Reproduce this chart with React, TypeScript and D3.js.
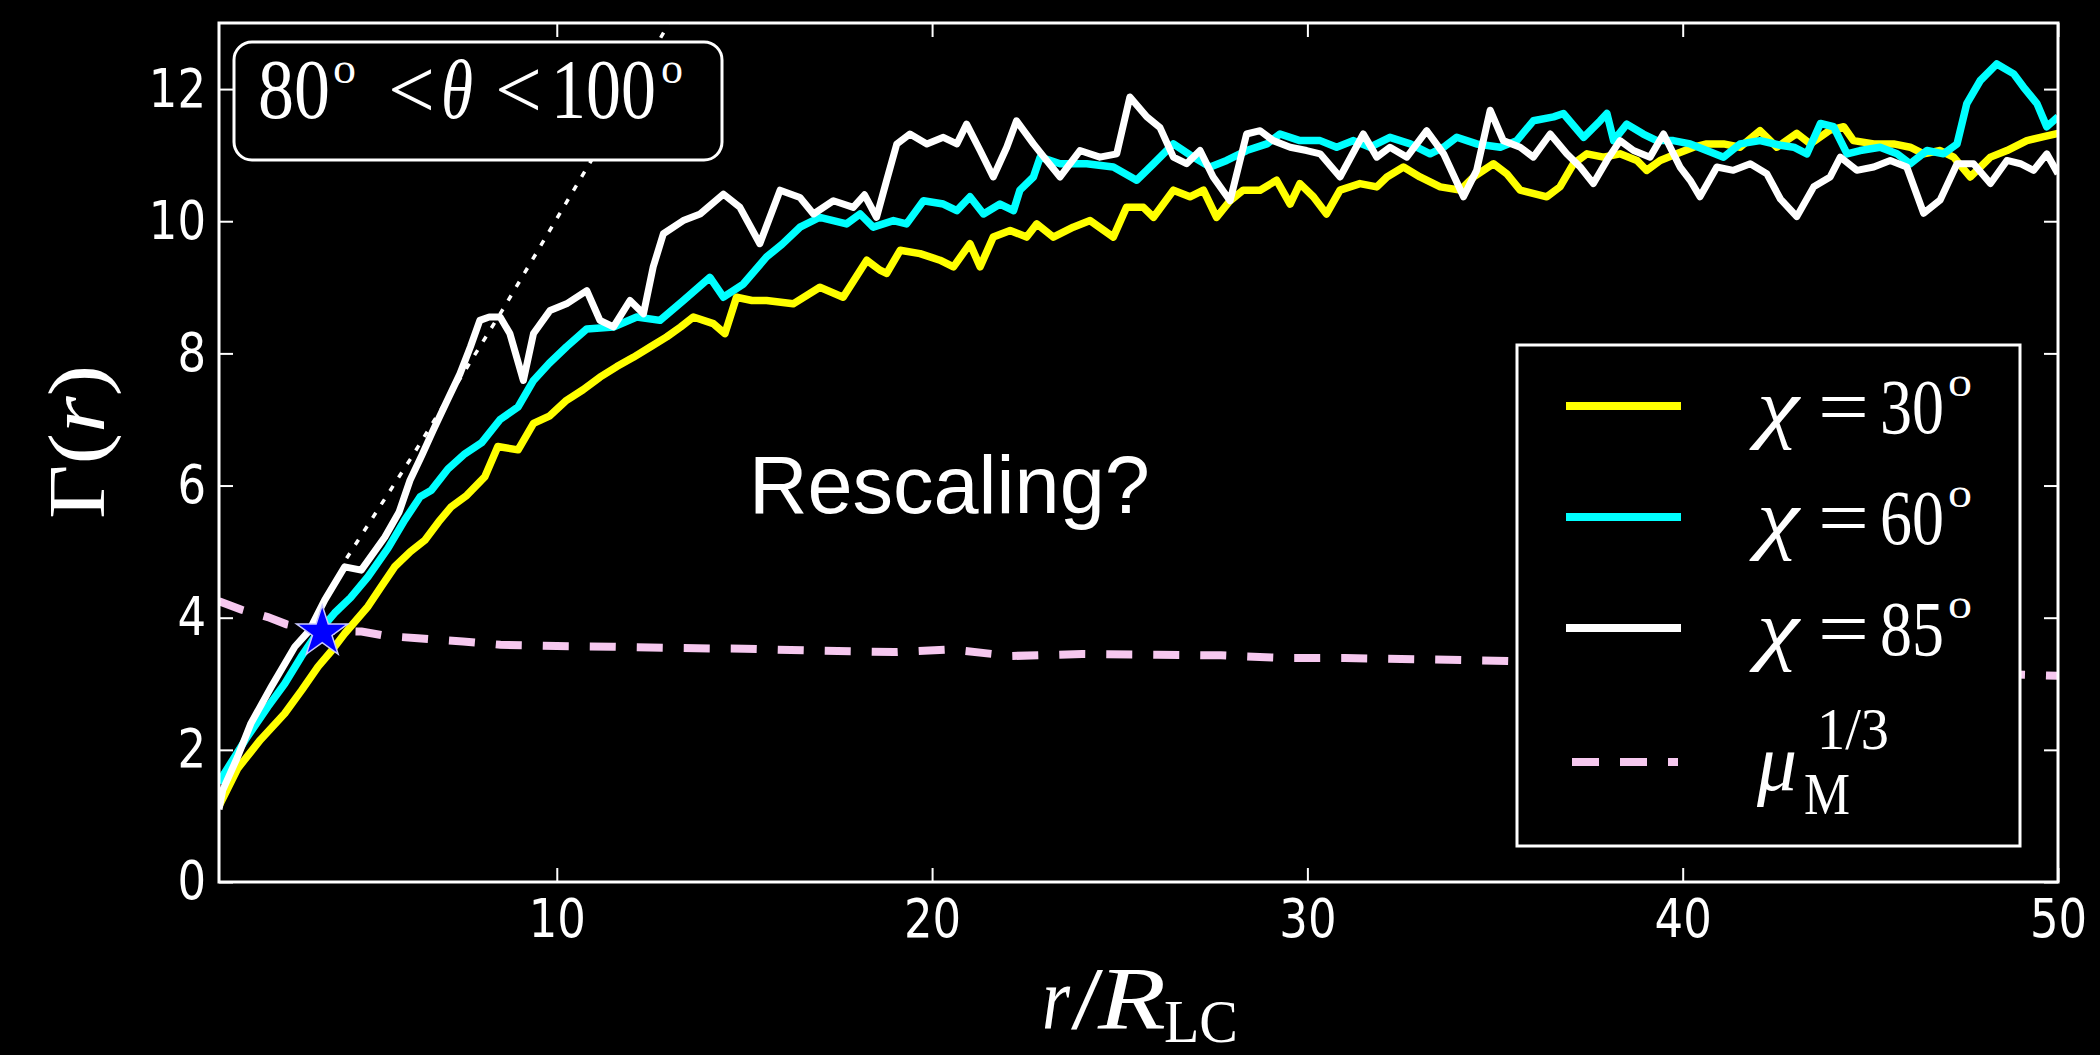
import React, { useEffect, useRef } from "react";
import * as d3 from "d3";

// ---------- data ----------
const xTicks = [10, 20, 30, 40, 50];
const yTicks = [0, 2, 4, 6, 8, 10, 12];
const legendAngles = ["30", "60", "85"];

// Gamma(r) for chi = 30 deg
const chi30: [number, number][] = [
  [1.0, 1.15], [1.5, 1.72], [2.1, 2.15], [2.75, 2.55], [3.2, 2.9], [3.64, 3.26], [4.0, 3.5], [4.35, 3.76],
  [4.97, 4.17], [5.3, 4.45], [5.68, 4.77], [6.1, 5.0], [6.48, 5.17], [6.85, 5.45], [7.19, 5.68], [7.6, 5.85],
  [8.08, 6.13], [8.43, 6.59], [8.97, 6.54], [9.38, 6.94], [9.8, 7.05], [10.26, 7.29], [10.7, 7.45], [11.15, 7.64],
  [11.6, 7.8], [12.04, 7.94], [12.5, 8.1], [12.93, 8.25], [13.3, 8.4], [13.64, 8.55], [14.17, 8.45], [14.48, 8.3],
  [14.79, 8.85], [15.2, 8.8], [15.59, 8.8], [16.3, 8.75], [17.01, 9.0], [17.63, 8.85], [18.26, 9.41], [18.61, 9.26],
  [18.79, 9.21], [19.15, 9.56], [19.68, 9.51], [20.21, 9.41], [20.57, 9.31], [21.01, 9.66], [21.28, 9.31], [21.63, 9.76],
  [22.08, 9.86], [22.52, 9.76], [22.79, 9.96], [23.23, 9.76], [23.76, 9.91], [24.21, 10.01], [24.83, 9.76], [25.18, 10.21],
  [25.63, 10.21], [25.9, 10.06], [26.43, 10.47], [26.87, 10.37], [27.23, 10.47], [27.58, 10.06], [27.94, 10.31], [28.29, 10.47],
  [28.74, 10.47], [29.18, 10.62], [29.54, 10.26], [29.8, 10.57], [30.16, 10.37], [30.51, 10.11], [30.87, 10.47], [31.4, 10.57],
  [31.85, 10.52], [32.12, 10.67], [32.56, 10.82], [33.0, 10.67], [33.54, 10.52], [34.07, 10.47], [34.43, 10.67], [34.96, 10.87],
  [35.31, 10.72], [35.67, 10.47], [36.38, 10.37], [36.73, 10.52], [37.09, 10.87], [37.45, 11.02], [37.89, 10.97], [38.33, 11.02],
  [38.78, 10.92], [39.04, 10.77], [39.4, 10.92], [39.84, 11.02], [40.29, 11.12], [40.64, 11.17], [41.09, 11.17], [41.53, 11.12],
  [42.06, 11.37], [42.51, 11.12], [43.04, 11.33], [43.4, 11.17], [43.93, 11.38], [44.29, 11.43], [44.55, 11.22], [45.09, 11.17],
  [45.62, 11.17], [46.06, 11.12], [46.42, 11.02], [46.86, 11.07], [47.22, 10.97], [47.66, 10.67], [48.2, 10.97], [48.64, 11.07],
  [49.17, 11.22], [49.62, 11.28], [50.0, 11.33],
];

// Gamma(r) for chi = 60 deg
const chi60: [number, number][] = [
  [1.0, 1.5], [1.15, 1.65], [1.7, 2.15], [2.3, 2.65], [2.75, 3.0], [3.19, 3.41], [3.6, 3.75], [4.08, 4.07],
  [4.5, 4.3], [4.97, 4.62], [5.5, 5.05], [5.95, 5.48], [6.36, 5.83], [6.66, 5.93], [7.1, 6.25], [7.55, 6.48],
  [8.0, 6.65], [8.49, 7.0], [8.97, 7.19], [9.38, 7.59], [9.8, 7.85], [10.26, 8.1], [10.8, 8.37], [11.51, 8.4],
  [12.13, 8.55], [12.75, 8.5], [13.37, 8.8], [14.08, 9.15], [14.44, 8.85], [14.97, 9.05], [15.59, 9.46], [16.0, 9.65],
  [16.48, 9.91], [17.01, 10.06], [17.72, 9.96], [18.08, 10.11], [18.43, 9.91], [18.97, 10.01], [19.32, 9.96], [19.77, 10.31],
  [20.3, 10.26], [20.66, 10.16], [21.01, 10.37], [21.37, 10.11], [21.81, 10.26], [22.17, 10.16], [22.34, 10.47], [22.7, 10.67],
  [22.88, 10.97], [23.41, 10.87], [24.12, 10.87], [24.83, 10.82], [25.45, 10.62], [25.9, 10.87], [26.43, 11.17], [26.96, 10.97],
  [27.41, 10.82], [27.85, 10.92], [28.38, 11.07], [28.92, 11.17], [29.27, 11.32], [29.8, 11.22], [30.34, 11.22], [30.78, 11.12],
  [31.23, 11.22], [31.67, 11.12], [32.2, 11.27], [32.74, 11.17], [33.27, 11.02], [33.63, 11.12], [33.98, 11.27], [34.51, 11.17],
  [35.14, 11.12], [35.58, 11.22], [36.02, 11.52], [36.56, 11.58], [36.82, 11.63], [37.36, 11.27], [37.8, 11.52], [37.98, 11.63],
  [38.16, 11.22], [38.51, 11.47], [38.95, 11.32], [39.31, 11.22], [39.75, 11.22], [40.2, 11.17], [40.64, 11.07], [41.09, 10.97],
  [41.53, 11.17], [42.06, 11.22], [42.6, 11.15], [42.96, 11.12], [43.31, 11.02], [43.67, 11.48], [44.02, 11.43], [44.38, 11.02],
  [44.73, 11.07], [45.26, 11.12], [45.71, 11.02], [46.06, 10.87], [46.51, 11.07], [46.95, 11.02], [47.31, 11.17], [47.57, 11.78],
  [47.93, 12.13], [48.37, 12.38], [48.82, 12.23], [49.08, 12.03], [49.44, 11.78], [49.7, 11.43], [50.0, 11.58],
];

// Gamma(r) for chi = 85 deg
const chi85: [number, number][] = [
  [1.0, 1.1], [1.1, 1.39], [1.5, 1.9], [1.85, 2.4], [2.39, 2.95], [3.02, 3.56], [3.4, 3.8], [3.82, 4.27],
  [4.35, 4.77], [4.79, 4.72], [5.42, 5.22], [5.8, 5.6], [6.09, 6.08], [6.4, 6.45], [6.71, 6.84], [7.05, 7.25],
  [7.42, 7.69], [7.7, 8.1], [7.95, 8.5], [8.2, 8.55], [8.49, 8.55], [8.75, 8.3], [9.11, 7.59], [9.38, 8.3],
  [9.82, 8.65], [10.26, 8.75], [10.8, 8.95], [11.15, 8.5], [11.51, 8.4], [11.95, 8.8], [12.31, 8.6], [12.57, 9.31],
  [12.84, 9.81], [13.37, 10.01], [13.82, 10.11], [14.44, 10.41], [14.88, 10.21], [15.41, 9.66], [15.95, 10.47], [16.48, 10.36],
  [16.84, 10.11], [17.37, 10.31], [17.9, 10.21], [18.2, 10.4], [18.52, 10.06], [18.79, 10.62], [19.06, 11.17], [19.41, 11.32],
  [19.86, 11.17], [20.3, 11.27], [20.66, 11.17], [20.92, 11.47], [21.28, 11.07], [21.63, 10.67], [21.99, 11.12], [22.25, 11.52],
  [22.7, 11.17], [23.05, 10.92], [23.41, 10.67], [23.94, 11.07], [24.47, 10.97], [24.92, 11.02], [25.27, 11.88], [25.72, 11.58],
  [26.07, 11.42], [26.43, 10.97], [26.78, 10.87], [27.14, 11.07], [27.49, 10.67], [27.94, 10.31], [28.38, 11.32], [28.74, 11.37],
  [29.09, 11.22], [29.54, 11.12], [29.98, 11.07], [30.34, 11.02], [30.87, 10.67], [31.49, 11.32], [31.85, 10.97], [32.2, 11.12],
  [32.65, 10.97], [33.18, 11.37], [33.63, 11.02], [34.16, 10.37], [34.51, 10.77], [34.87, 11.68], [35.22, 11.22], [35.67, 11.12],
  [36.02, 10.97], [36.47, 11.32], [36.91, 11.02], [37.27, 10.82], [37.62, 10.57], [37.98, 10.92], [38.33, 11.22], [38.69, 11.07],
  [39.13, 10.97], [39.49, 11.32], [39.93, 10.82], [40.2, 10.62], [40.46, 10.37], [40.91, 10.82], [41.35, 10.77], [41.8, 10.87],
  [42.24, 10.72], [42.6, 10.34], [43.04, 10.07], [43.49, 10.52], [43.93, 10.67], [44.2, 10.97], [44.64, 10.77], [45.09, 10.82],
  [45.53, 10.92], [45.97, 10.82], [46.42, 10.12], [46.86, 10.32], [47.31, 10.87], [47.75, 10.87], [48.2, 10.57], [48.64, 10.92],
  [49.0, 10.87], [49.35, 10.77], [49.7, 11.02], [50.0, 10.72],
];

// mu_M^(1/3)
const muM: [number, number][] = [
  [1.0, 4.25], [1.6, 4.12], [2.3, 4.01], [2.8, 3.9], [3.3, 3.84], [4.0, 3.8], [4.8, 3.79], [5.5, 3.72],
  [6.3, 3.69], [7.5, 3.64], [8.5, 3.59], [10.0, 3.57], [11.5, 3.56], [13.3, 3.54], [15.0, 3.53], [17.0, 3.5],
  [19.0, 3.48], [20.5, 3.52], [22.1, 3.42], [24.0, 3.45], [26.0, 3.44], [27.7, 3.43], [29.4, 3.39], [31.0, 3.39],
  [33.0, 3.37], [35.0, 3.35], [38.0, 3.3], [41.0, 3.26], [44.0, 3.21], [47.0, 3.17], [49.5, 3.13], [50.0, 3.12],
];

// dotted linear-growth guide
const linearGuide: [number, number][] = [
  [4.4, 4.9], [6.1, 6.4], [8.6, 8.7], [10.9, 10.9], [12.85, 12.86], [13.2, 13.3],
];

// star marker
const starPoint: [number, number] = [3.75, 3.78];

// ---------- layout ----------
const W = 2100;
const H = 1055;
const PLOT = { left: 219, right: 2058, top: 23, bottom: 882 };
const SY = 1.18; // vertical stretch of the original figure's text
const SERIF = "'Liberation Serif', 'DejaVu Serif', serif";
const SANS = "'DejaVu Sans', sans-serif";

const COLORS = { c30: "#ffff00", c60: "#00ffff", c85: "#ffffff", mu: "#f6c8ef", star: "#0000ff" };

type Piece = { t: string; x: number; dy?: number; size: number; italic?: boolean; w?: number };

function MathText({ baseline, pieces }: { baseline: number; pieces: Piece[] }) {
  return (
    <g transform={`translate(0,${baseline}) scale(1,${SY})`}>
      {pieces.map((p, i) => (
        <text
          key={i}
          x={p.x}
          y={(p.dy ?? 0) / SY}
          fontSize={p.size}
          fontStyle={p.italic ? "italic" : "normal"}
          fontFamily={SERIF}
          fill="#fff"
          {...(p.w ? { textLength: p.w, lengthAdjust: "spacingAndGlyphs" } : {})}
        >
          {p.t}
        </text>
      ))}
    </g>
  );
}

export default function App() {
  const x = d3.scaleLinear().domain([1, 50]).range([PLOT.left, PLOT.right]);
  const y = d3.scaleLinear().domain([0, 13]).range([PLOT.bottom, PLOT.top]);
  const line = d3
    .line<[number, number]>()
    .x((d) => x(d[0]))
    .y((d) => y(d[1]));

  const axL = useRef<SVGGElement>(null);
  const axR = useRef<SVGGElement>(null);
  const axB = useRef<SVGGElement>(null);
  const axT = useRef<SVGGElement>(null);

  useEffect(() => {
    const styleAxis = (g: any) => {
      g.attr("color", "#fff");
      g.select(".domain").remove();
      g.selectAll(".tick line").attr("stroke-width", 2);
      g.selectAll("text")
        .attr("fill", "#fff")
        .attr("font-family", SANS)
        .attr("font-size", 45)
        .attr("dy", null)
        .attr("transform", `scale(1,${SY})`);
    };
    const gl = d3.select(axL.current as SVGGElement);
    gl.selectAll("*").remove();
    gl.call(d3.axisLeft(y).tickValues(yTicks).tickSize(-14).tickSizeOuter(0).tickPadding(13).tickFormat(d3.format("d")) as any);
    styleAxis(gl);
    gl.selectAll("text").attr("y", 14.4);

    const gr = d3.select(axR.current as SVGGElement);
    gr.selectAll("*").remove();
    gr.call(d3.axisRight(y).tickValues(yTicks).tickSize(-14).tickSizeOuter(0).tickFormat(() => "") as any);
    styleAxis(gr);

    const gb = d3.select(axB.current as SVGGElement);
    gb.selectAll("*").remove();
    gb.call(d3.axisBottom(x).tickValues(xTicks).tickSize(-14).tickSizeOuter(0).tickFormat(d3.format("d")) as any);
    styleAxis(gb);
    gb.selectAll("text").attr("y", 46.6);

    const gt = d3.select(axT.current as SVGGElement);
    gt.selectAll("*").remove();
    gt.call(d3.axisTop(x).tickValues(xTicks).tickSize(-14).tickSizeOuter(0).tickFormat(() => "") as any);
    styleAxis(gt);
  }, []);

  const starPath = d3.symbol(d3.symbolStar, 820)() as string;

  const legendRows = [
    { label: legendAngles[0], color: COLORS.c30 },
    { label: legendAngles[1], color: COLORS.c60 },
    { label: legendAngles[2], color: COLORS.c85 },
  ];

  return (
    <div style={{ position: "fixed", left: 0, top: 0, width: W, height: H, background: "#000" }}>
      <svg width={W} height={H} style={{ display: "block", background: "#000" }}>
        <defs>
          <clipPath id="plotClip">
            <rect x={PLOT.left} y={PLOT.top} width={PLOT.right - PLOT.left} height={PLOT.bottom - PLOT.top} />
          </clipPath>
        </defs>

        <g clipPath="url(#plotClip)">
          <path d={line(linearGuide) as string} fill="none" stroke="#fff" strokeWidth={3.5} strokeDasharray="6 10" />
          <path d={line(chi30) as string} fill="none" stroke={COLORS.c30} strokeWidth={7.5} strokeLinejoin="round" />
          <path d={line(chi60) as string} fill="none" stroke={COLORS.c60} strokeWidth={7.5} strokeLinejoin="round" />
          <path d={line(chi85) as string} fill="none" stroke={COLORS.c85} strokeWidth={7} strokeLinejoin="round" />
          <path d={line(muM) as string} fill="none" stroke={COLORS.mu} strokeWidth={8} strokeDasharray="26 21" />
          <path
            d={starPath}
            transform={`translate(${x(starPoint[0])},${y(starPoint[1])})`}
            fill={COLORS.star}
            stroke="#c8c8ff"
            strokeWidth={1.5}
          />
        </g>

        {/* annotation box */}
        <rect x={234} y={42} width={488} height={118} rx={18} ry={18} fill="#000" stroke="#fff" strokeWidth={3} />
        <MathText
          baseline={118}
          pieces={[
            { t: "80", x: 258, size: 72, w: 72 },
            { t: "o", x: 333, dy: -35, size: 38, w: 23 },
            { t: "<", x: 388, size: 72, w: 47 },
            { t: "θ", x: 441, size: 72, italic: true, w: 32 },
            { t: "<", x: 495, size: 72, w: 47 },
            { t: "100", x: 551, size: 72, w: 105 },
            { t: "o", x: 661, dy: -35, size: 38, w: 22 },
          ]}
        />

        {/* Rescaling? */}
        <text x={749} y={513} fontFamily="'Liberation Sans', Arial, sans-serif" fontSize={81} fill="#fff">
          Rescaling?
        </text>

        {/* legend */}
        <rect x={1517} y={345} width={503} height={501} fill="#000" stroke="#fff" strokeWidth={3} />
        {legendRows.map((r, i) => {
          const base = 433 + i * 111;
          return (
            <g key={r.label}>
              <line x1={1566} x2={1681} y1={base - 27} y2={base - 27} stroke={r.color} strokeWidth={8} />
              <MathText
                baseline={base}
                pieces={[
                  { t: "χ", x: 1757, size: 66, italic: true, w: 42 },
                  { t: "=", x: 1818, size: 66, w: 51 },
                  { t: r.label, x: 1880, size: 66, w: 64 },
                  { t: "o", x: 1948, dy: -37, size: 36, w: 24 },
                ]}
              />
            </g>
          );
        })}
        <line x1={1572} x2={1678} y1={762} y2={762} stroke={COLORS.mu} strokeWidth={8} strokeDasharray="27 21" />
        <MathText
          baseline={790}
          pieces={[
            { t: "μ", x: 1757, size: 68, italic: true, w: 40 },
            { t: "M", x: 1804, dy: 24, size: 50, w: 46 },
            { t: "1/3", x: 1817, dy: -41, size: 50, w: 72 },
          ]}
        />

        {/* frame */}
        <rect
          x={PLOT.left}
          y={PLOT.top}
          width={PLOT.right - PLOT.left}
          height={PLOT.bottom - PLOT.top}
          fill="none"
          stroke="#fff"
          strokeWidth={3}
        />

        {/* axes */}
        <g ref={axL} transform={`translate(${PLOT.left},0)`} />
        <g ref={axR} transform={`translate(${PLOT.right},0)`} />
        <g ref={axB} transform={`translate(0,${PLOT.bottom})`} />
        <g ref={axT} transform={`translate(0,${PLOT.top})`} />

        {/* axis labels */}
        <MathText
          baseline={1028}
          pieces={[
            { t: "r", x: 1042, size: 76, italic: true, w: 28 },
            { t: "/", x: 1071, size: 76, w: 32 },
            { t: "R", x: 1098, size: 76, italic: true, w: 68 },
            { t: "LC", x: 1164, dy: 14, size: 52, w: 74 },
          ]}
        />
        <g transform={`translate(104,442) scale(1,${SY}) rotate(-90)`}>
          <text textAnchor="middle" fontFamily={SERIF} fontSize={80} fill="#fff">
            Γ(<tspan fontStyle="italic">r</tspan>)
          </text>
        </g>
      </svg>
    </div>
  );
}
